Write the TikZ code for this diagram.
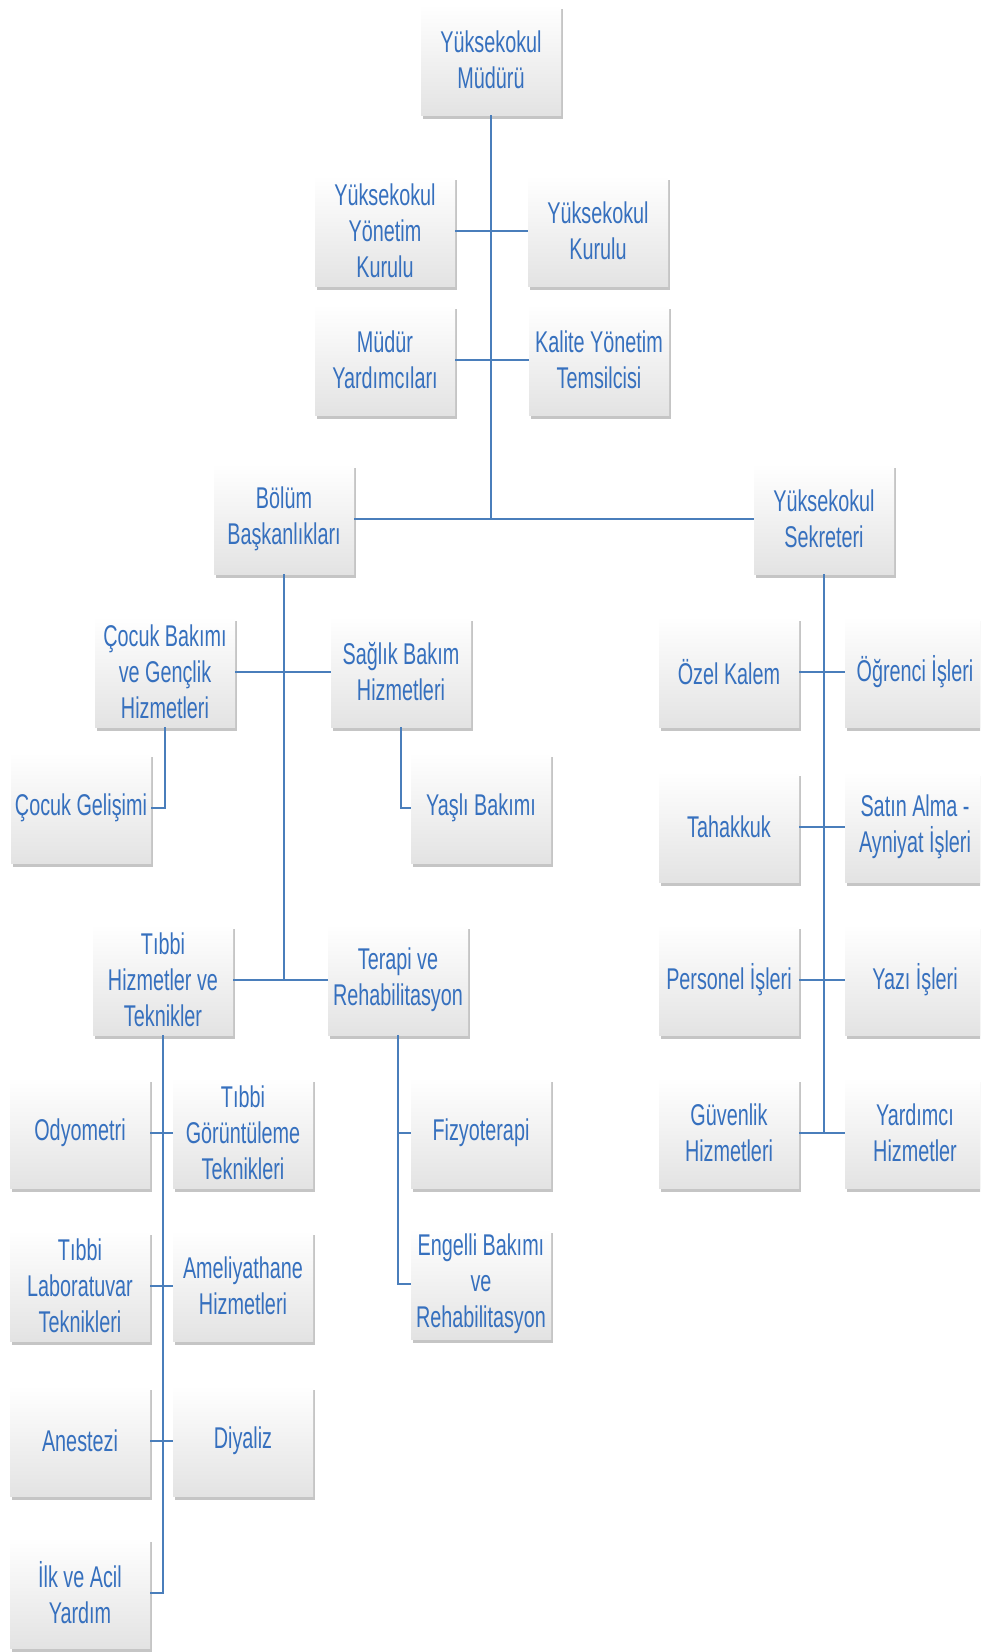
\documentclass[tikz,border=0pt]{standalone}
\usepackage{fontspec}
\setmainfont{Liberation Sans}[FakeStretch=0.66]
\usetikzlibrary{shadows}
\definecolor{txtblue}{RGB}{54,112,190}
\definecolor{lineblue}{RGB}{74,126,187}
\tikzset{
	unit/.style={minimum width=140pt, minimum height=110pt, inner sep=0pt, align=center,
		text=txtblue, top color=white, bottom color=black!11,
		drop shadow={shadow xshift=1.5pt, shadow yshift=-4pt, opacity=0.5, fill=black!45},
		font=\fontsize{30}{36}\selectfont},
	link/.style={draw=lineblue, line width=1.5pt}
}
\begin{document}
\begin{tikzpicture}[x=1pt, y=-1pt]
		\useasboundingbox (0,0) rectangle (980,1652);
		\clip (0,0) rectangle (980,1652);
		% top
		\node[unit] (mudur) at (491,60) {Yüksekokul\\Müdürü};
		\node[unit] (yonkur) at (385,231) {Yüksekokul\\Yönetim\\Kurulu};
		\node[unit] (ykurul) at (598,231) {Yüksekokul\\Kurulu};
		\node[unit] (myard) at (385,360) {Müdür\\Yardımcıları};
		\node[unit] (kalite) at (599,360) {Kalite Yönetim\\Temsilcisi};
		\node[unit] (bolum) at (284,519) {Bölüm\\Başkanlıkları};
		\node[unit] (sekreter) at (824,519) {Yüksekokul\\Sekreteri};
		% bolumler
		\node[unit] (cocukbakim) at (165,672) {Çocuk Bakımı\\ve Gençlik\\Hizmetleri};
		\node[unit] (saglik) at (401,672) {Sağlık Bakım\\Hizmetleri};
		\node[unit] (cocukgel) at (81,808) {Çocuk Gelişimi};
		\node[unit] (yasli) at (481,808) {Yaşlı Bakımı};
		\node[unit] (tibbi) at (163,980) {Tıbbi\\Hizmetler ve\\Teknikler};
		\node[unit] (terapi) at (398,980) {Terapi ve\\Rehabilitasyon};
		\node[unit] (odyo) at (80,1133) {Odyometri};
		\node[unit] (goruntu) at (243,1133) {Tıbbi\\Görüntüleme\\Teknikleri};
		\node[unit] (lab) at (80,1286) {Tıbbi\\Laboratuvar\\Teknikleri};
		\node[unit] (ameliyat) at (243,1286) {Ameliyathane\\Hizmetleri};
		\node[unit] (anestezi) at (80,1441) {Anestezi};
		\node[unit] (diyaliz) at (243,1441) {Diyaliz};
		\node[unit] (ilk) at (80,1593) {İlk ve Acil\\Yardım};
		\node[unit] (fizyo) at (481,1133) {Fizyoterapi};
		\node[unit] (engelli) at (481,1284) {Engelli Bakımı\\ve\\Rehabilitasyon};
		% sekreterlik
		\node[unit] (ozel) at (729,672) {Özel Kalem};
		\node[unit] (ogrenci) at (915,672) {Öğrenci İşleri};
		\node[unit] (tahakkuk) at (729,827) {Tahakkuk};
		\node[unit] (satin) at (915,827) {Satın Alma -\\Ayniyat İşleri};
		\node[unit] (personel) at (729,980) {Personel İşleri};
		\node[unit] (yazi) at (915,980) {Yazı İşleri};
		\node[unit] (guvenlik) at (729,1133) {Güvenlik\\Hizmetleri};
		\node[unit] (yardimci) at (915,1133) {Yardımcı\\Hizmetler};
		% connectors
		\draw[link] (mudur.south) -- (mudur.south |- bolum.east);
		\draw[link] (yonkur.east) -- (ykurul.west);
		\draw[link] (myard.east) -- (kalite.west);
		\draw[link] (bolum.east) -- (sekreter.west);
		\draw[link] (bolum.south) -- (bolum.south |- tibbi.east);
		\draw[link] (cocukbakim.east) -- (saglik.west);
		\draw[link] (tibbi.east) -- (terapi.west);
		\draw[link] (cocukbakim.south) |- (cocukgel.east);
		\draw[link] (saglik.south) |- (yasli.west);
		\draw[link] (tibbi.south) |- (ilk.east);
		\draw[link] (odyo.east) -- (goruntu.west);
		\draw[link] (lab.east) -- (ameliyat.west);
		\draw[link] (anestezi.east) -- (diyaliz.west);
		\draw[link] (terapi.south) |- (engelli.west);
		\draw[link] (terapi.south |- fizyo.west) -- (fizyo.west);
		\draw[link] (sekreter.south) -- (sekreter.south |- guvenlik.east);
		\draw[link] (ozel.east) -- (ogrenci.west);
		\draw[link] (tahakkuk.east) -- (satin.west);
		\draw[link] (personel.east) -- (yazi.west);
		\draw[link] (guvenlik.east) -- (yardimci.west);
	\end{tikzpicture}
\end{document}
